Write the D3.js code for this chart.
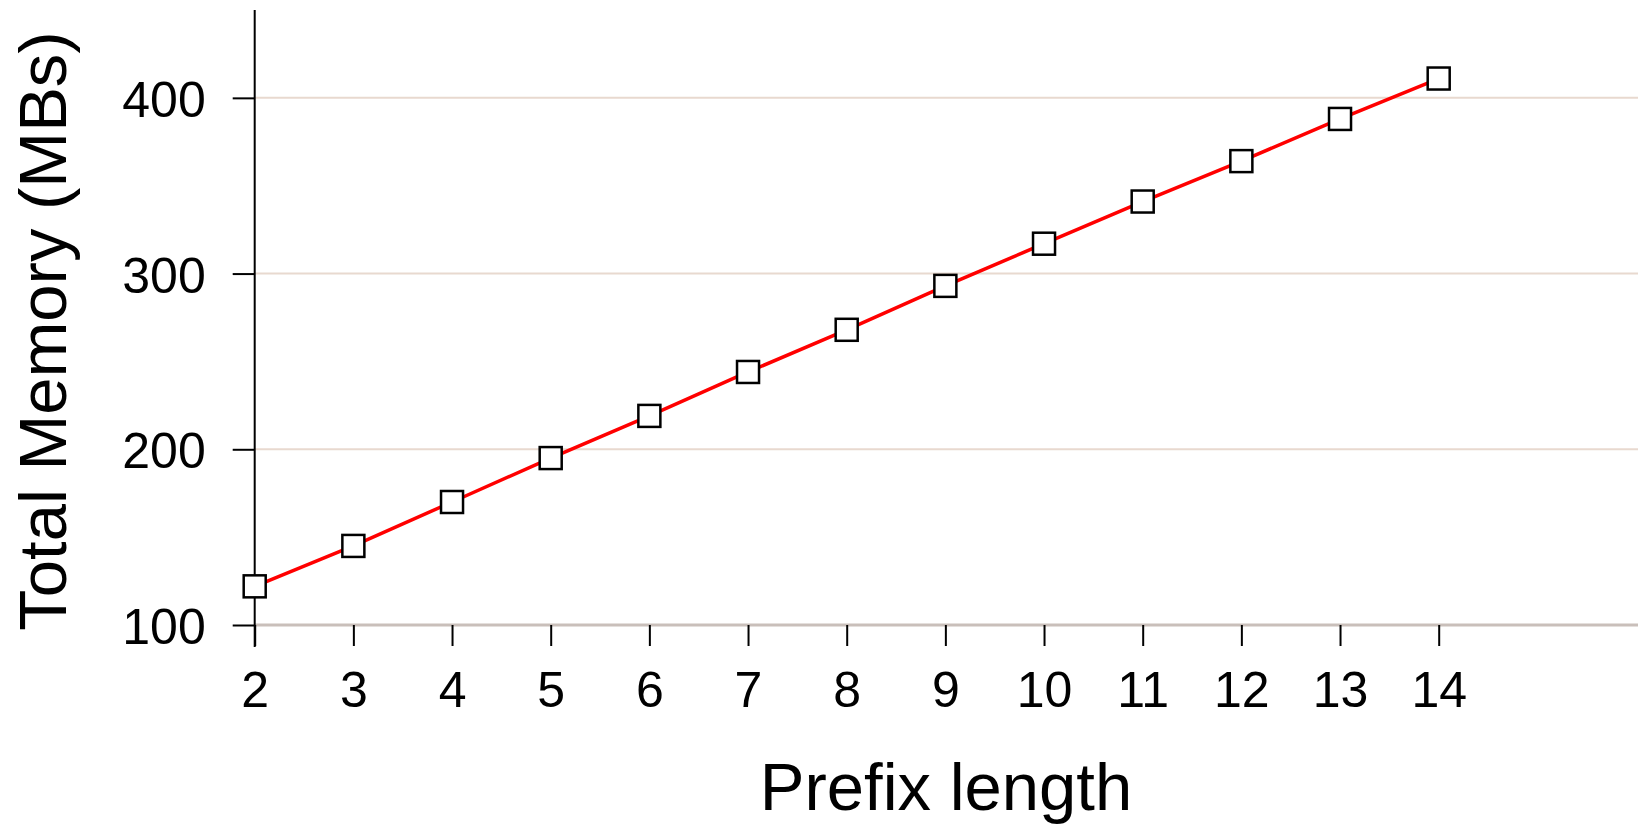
<!DOCTYPE html>
<html>
<head>
<meta charset="utf-8">
<script src="https://cdn.jsdelivr.net/npm/d3@7"></script>
<style>
html,body{margin:0;padding:0;background:#fff;}
svg{display:block;}
text{font-family:"Liberation Sans", Arial, Helvetica, sans-serif;fill:#000;}
</style>
</head>
<body>
<svg id="chart" width="1638" height="825"></svg>
<script>
const prefixLengths = [2,3,4,5,6,7,8,9,10,11,12,13,14];
const totalMemory = [122,145,170,195,219,244,268,293,317,341,364,388,411];
const yTickValues = [100,200,300,400];
const xTickValues = [2,3,4,5,6,7,8,9,10,11,12,13,14];
const xLabel = "Prefix length";
const yLabel = "Total Memory (MBs)";

(function(){
const svg = d3.select("#chart");
const mLeft = 254.7, mRight = 1638, mTop = 10, mBottom = 625;

const x = d3.scaleLinear().domain([2,16.02]).range([mLeft,mRight]);
const y = d3.scaleLinear().domain([100,450]).range([mBottom,mTop]);

// grid lines
svg.append("g").selectAll("line").data(yTickValues.filter(d=>d>100)).join("line")
  .attr("x1",mLeft).attr("x2",mRight)
  .attr("y1",d=>y(d)).attr("y2",d=>y(d))
  .attr("stroke","#e8d9cf").attr("stroke-width",2);

// bottom axis line
svg.append("line").attr("x1",mLeft).attr("x2",mRight)
  .attr("y1",y(100)).attr("y2",y(100))
  .attr("stroke","#c9bfba").attr("stroke-width",3);

// y axis
const yAxis = svg.append("g").attr("transform",`translate(${mLeft},0)`)
  .call(d3.axisLeft(y).tickValues(yTickValues).tickSize(22).tickPadding(27).tickFormat(d3.format("d")));
yAxis.select(".domain").remove();
yAxis.selectAll(".tick line").attr("stroke","#000").attr("stroke-width",2);
yAxis.selectAll(".tick text").attr("font-size",50).attr("dy","0.37em")
  .style("font-family","'Liberation Sans', Arial, sans-serif");

// x axis
const xAxis = svg.append("g").attr("transform",`translate(0,${mBottom})`)
  .call(d3.axisBottom(x).tickValues(xTickValues).tickSize(21).tickPadding(25.5).tickFormat(d3.format("d")));
xAxis.select(".domain").remove();
xAxis.selectAll(".tick line").attr("stroke","#000").attr("stroke-width",2);
xAxis.selectAll(".tick text").attr("font-size",50)
  .style("font-family","'Liberation Sans', Arial, sans-serif");

// y axis vertical line
svg.append("line").attr("x1",mLeft).attr("x2",mLeft).attr("y1",mTop).attr("y2",mBottom+22)
  .attr("stroke","#000").attr("stroke-width",2);

// data line
const line = d3.line().x((d,i)=>x(prefixLengths[i])).y(d=>y(d));
svg.append("path").datum(totalMemory).attr("d",line)
  .attr("fill","none").attr("stroke","#ff0000").attr("stroke-width",3.5);

// markers
const ms = 22;
svg.append("g").selectAll("rect").data(totalMemory).join("rect")
  .attr("x",(d,i)=>x(prefixLengths[i])-ms/2)
  .attr("y",d=>y(d)-ms/2)
  .attr("width",ms).attr("height",ms)
  .attr("fill","#fff").attr("stroke","#000").attr("stroke-width",2.5);

// axis labels
svg.append("text").attr("x",946).attr("y",810).attr("text-anchor","middle")
  .attr("font-size",67).text(xLabel);
svg.append("text").attr("transform","translate(66,331) rotate(-90)")
  .attr("text-anchor","middle").attr("font-size",67).text(yLabel);
})();
</script>
</body>
</html>
